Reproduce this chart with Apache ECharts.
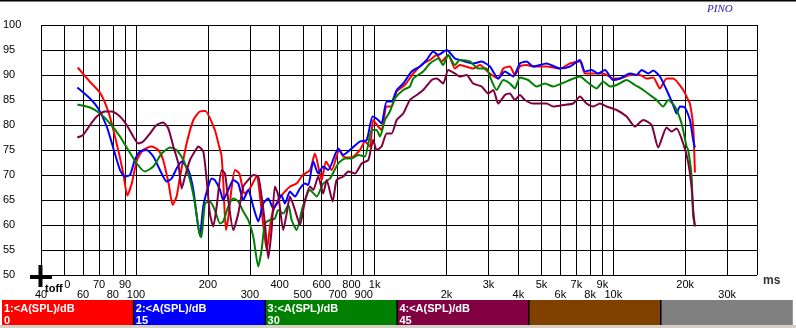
<!DOCTYPE html>
<html><head><meta charset="utf-8">
<script src="https://cdn.jsdelivr.net/npm/echarts@6/dist/echarts.min.js"></script>
<style>html,body{margin:0;padding:0;background:#fff}#c{width:796px;height:328px}</style>
</head><body><div id="c"></div>
<script>
// ---- tick values / labels ----
const xTickValues = [40,50,60,70,80,90,100,200,300,400,500,600,700,800,900,1000,2000,3000,4000,5000,6000,7000,8000,9000,10000,20000,30000,40000];
const xLabelValues = [40,50,60,70,80,90,100,200,300,400,500,600,700,800,900,1000,2000,3000,4000,5000,6000,7000,8000,9000,10000,20000,30000];
const xLabelTexts = ['40','50','60','70','80','90','100','200','300','400','500','600','700','800','900','1k','2k','3k','4k','5k','6k','7k','8k','9k','10k','20k','30k'];
const yMin = 50, yMax = 100, yStep = 5;

// ---- series ----
const seriesNames = ['1:<A(SPL)/dB','2:<A(SPL)/dB','3:<A(SPL)/dB','4:<A(SPL)/dB'];
const seriesDelays = ['0','15','30','45'];
const seriesColors = ['#ff0000','#0000ff','#008000','#800040'];
const legendColors = ['#ff0000','#0000ff','#008000','#800040','#804000','#808080'];

// [frequency Hz, level dB]
const curve1 = [[57,91.5],[64,88.7],[71,86.3],[77,82.3],[83,76.3],[88.5,70.3],[92,65.9],[96,68.3],[101,73],[107,75],[116,75.7],[124,75],[130,73],[137,68.3],[142.5,64],[148,65.7],[153,69.7],[163,76.3],[174,81],[185,82.7],[195,82.8],[214,79],[223,75.7],[228,74],[232,69],[238,59],[244,61.7],[252,67.7],[260,71],[271,70.3],[285,66.3],[300,67.3],[320,69.7],[336,63],[353,55],[370,61.7],[394,65],[421,66.7],[442,67.7],[471,68.3],[500,70],[536,71],[562,74.3],[600,69],[625,72.7],[661,71],[711,75],[739,73.7],[800,73.5],[868,75],[911,76.7],[956,75.7],[986,81],[1035,79.7],[1069,79],[1123,83.7],[1178,83.7],[1237,86.7],[1339,88],[1451,90.3],[1598,92.3],[1704,93],[1819,94],[1908,92.7],[2034,94],[2170,91.3],[2275,92],[2586,91.3],[2760,92],[3040,90.3],[3295,89.3],[3459,91.3],[3687,91.7],[3870,90],[4061,91.7],[4332,92],[4618,91.7],[5253,91.7],[5974,91.3],[6580,92.3],[7248,92.7],[7603,90.3],[8240,90.3],[9071,90.3],[9989,89.3],[10665,89.3],[11746,90],[12936,90],[13790,89.3],[14700,89.5],[15677,87.3],[16720,89.3],[17820,89.3],[19630,87],[20600,85],[20943,84.3],[21610,79.7],[21970,70.5]];
const curve2 = [[56.8,87.5],[64.2,85.3],[69.5,83.3],[75.4,79.7],[80,75.7],[85.7,71],[89.6,69.7],[94.4,70],[98.9,73],[103.9,74.7],[110.8,75],[118.2,73.7],[126,71],[134.4,68.7],[141,69.3],[148,71.3],[155.4,72.7],[165.7,71],[173.9,67],[185.4,57.8],[191.4,63.7],[200.8,67.7],[207.6,69.3],[214,69],[225,67],[232,65],[243.6,67],[255.7,69],[268.3,68.3],[281.5,65],[295.4,67],[310,63.7],[325.4,60.7],[341.5,64.3],[358.4,65.3],[376,63.3],[394.5,64.7],[406,66],[421,64.3],[441.7,66.7],[463.6,65.7],[486.5,67.3],[510,68.3],[527,68],[553,72.7],[580,70.3],[609,71.7],[639,71],[704,75.3],[739,74],[801,75.3],[868,76.7],[926,77],[981,81.7],[1035,81],[1069,80.3],[1123,84.7],[1178,84.7],[1237,87],[1318,88.3],[1429,90.7],[1547,91.7],[1651,93],[1760,94.7],[1847,94],[2003,95],[2170,93.3],[2275,93],[2586,92.3],[2806,92.7],[3040,91.7],[3295,89.3],[3515,90.7],[3809,89.7],[4061,92.3],[4332,92.7],[4618,91.7],[5253,92.3],[5974,91.3],[6580,91.7],[7248,93],[7603,90.7],[8110,91],[8645,90.3],[9220,91],[9989,89],[10665,89.3],[11746,90.3],[12530,90],[13140,91],[14010,90.3],[14700,90.9],[15677,89.7],[16720,87],[17820,84],[18410,82.3],[19012,83.7],[19950,83.5],[20943,81],[21610,77],[21970,75.5]];
const curve3 = [[56.8,84.1],[64.2,83.5],[70.7,82.3],[77.8,80.3],[85.7,77.7],[92.8,75],[100.7,72.3],[109,70.7],[118.2,71.7],[128.1,74.3],[138.8,75.5],[148,75],[158,73],[168.4,69],[176.6,64.3],[184,58.5],[188,57.5],[194.6,64.3],[204,64.7],[214,63],[225,60.3],[232,60.7],[243.6,63.7],[255.7,65.3],[268.3,64.7],[281.5,62.7],[295.4,61],[310,57.7],[325.4,51.7],[336,55],[347,60.3],[364,61],[382,61.3],[394.5,63],[414,62.3],[435,64],[449,61],[471,59],[500,63.7],[536,67],[572,65.7],[609,68.3],[650,69.3],[704,72.3],[751,73.3],[801,73.3],[854,74],[911,73.7],[971,79],[1019,79],[1052,77.7],[1105,81],[1159,82.7],[1216,85.3],[1318,87],[1405,87.7],[1451,89.3],[1598,90.7],[1704,92.3],[1790,93],[1847,93.3],[1938,92],[2034,94],[2170,92],[2275,93],[2506,92.7],[2717,91.3],[2946,91.3],[3040,89.7],[3245,87],[3459,89],[3687,88.3],[3870,87.3],[4061,89.5],[4399,89],[4770,87.7],[5170,88.3],[5600,87.7],[6075,88.3],[6580,89],[7248,89.7],[7727,88.7],[8511,87.3],[9071,88.7],[9684,87.7],[10325,88],[11370,89],[12320,88],[13350,87],[14237,86],[15180,85],[16190,83.7],[16990,85],[18110,83.7],[19320,80.3],[20280,75.7],[20600,75],[21280,69.7],[21610,61.7],[21970,60]];
const curve4 = [[56.8,77.5],[60,78],[64.2,80],[68.5,81.7],[74.2,82.7],[79.1,82.7],[85.7,81.7],[91.4,80],[97.4,77.7],[102.3,76.3],[107.3,76.7],[114.5,78.3],[122,80],[130,80.5],[136.6,79.3],[143.4,75.7],[150.5,72.3],[155.4,67.3],[160.5,69.7],[168.4,73],[179.5,75.3],[182.4,75.7],[191.4,74.7],[197.8,69],[204,62.3],[210.8,59.7],[217.8,63.7],[228.6,71],[236,70.3],[243.6,65],[255.7,59],[268.3,62.3],[281.5,67.7],[295.4,69],[310,70],[325.4,69.7],[336,65.7],[347,60.3],[358.4,53.3],[370,59],[382,67.7],[394.5,66],[414,59],[428,62.3],[441.7,65.7],[463.6,63],[486.5,60],[510,64.7],[536,67.7],[553,67],[580,69.7],[609,66.3],[629.6,69],[667,64.7],[693,69],[739,69.7],[776,70.7],[827,70.3],[882,72.3],[941,73],[986,77],[1019,75],[1069,75.7],[1123,78.3],[1178,78.3],[1237,81],[1318,82.3],[1405,85],[1500,86],[1598,87],[1734,89],[1819,89.3],[1938,88.3],[2034,91],[2170,90.3],[2275,89.7],[2429,90],[2586,88.3],[2806,87.7],[2992,86.3],[3141,87],[3295,84.3],[3515,86],[3687,86.3],[3870,85],[4061,86],[4262,85],[4618,84.3],[5253,84.3],[5600,83.7],[6166,84],[6793,84.3],[7248,85.7],[7727,84.3],[8240,83.7],[8792,84.3],[9375,83.7],[10325,83],[11370,81.7],[12320,79.7],[13350,81],[14470,80],[15420,75.5],[16720,79.5],[17540,78.7],[18410,79.3],[19630,76.3],[20600,72.5],[21280,67.5],[21610,63],[21970,59.7]];
const curves = [curve1, curve2, curve3, curve4];

const FONT = '"Liberation Sans", Arial, sans-serif';

function xLabel(v) {
  let best = 0, bd = Infinity;
  for (let i = 0; i < xLabelValues.length; i++) {
    const d = Math.abs(Math.log(v / xLabelValues[i]));
    if (d < bd) { bd = d; best = i; }
  }
  const t = xLabelTexts[best];
  return best % 2 === 0 ? '\n' + t : t;
}

const chart = echarts.init(document.getElementById('c'), null, {renderer: 'canvas'});

const legendW = 131.8, legendX0 = 2, legendY = 300, legendH = 25;
const graphics = [];
graphics.push({type:'rect', shape:{x:0,y:325,width:796,height:3}, style:{fill:'#d4d0c8'}, silent:true});
legendColors.forEach((c, i) => {
  graphics.push({type:'rect', shape:{x:legendX0 + i*legendW, y:legendY, width:legendW, height:legendH}, style:{fill:c}, silent:true});
  if (i > 0) graphics.push({type:'rect', shape:{x:legendX0 + i*legendW - 1, y:legendY, width:1.5, height:legendH}, style:{fill:'#000'}, silent:true});
  if (i < seriesNames.length) {
    graphics.push({type:'text', x:legendX0 + i*legendW + 2, y:legendY + 3, silent:true,
      style:{text: seriesNames[i] + '\n' + seriesDelays[i], fill:'#fff', font:'bold 11px ' + FONT, lineHeight:12}});
  }
});
graphics.push({type:'rect', shape:{x:0,y:0,width:796,height:1.5}, style:{fill:'#000'}, silent:true});
graphics.push({type:'text', x:707, y:4, silent:true, style:{text:'PINO', fill:'#2323c8', font:'italic 11px "Liberation Serif", "Times New Roman", serif'}});
graphics.push({type:'text', x:763, y:275, silent:true, style:{text:'ms', fill:'#333', font:'bold 12px ' + FONT}});
graphics.push({type:'rect', shape:{x:47,y:278.5,width:17.5,height:12.5}, style:{fill:'#fff'}, silent:true, z:100});
graphics.push({type:'text', x:45, y:283, silent:true, z:101, style:{text:'toff', fill:'#000', font:'bold 11px ' + FONT}});
graphics.push({type:'rect', shape:{x:38.5,y:265,width:4,height:22}, style:{fill:'#000'}, silent:true, z:102});
graphics.push({type:'rect', shape:{x:30,y:275,width:22,height:4}, style:{fill:'#000'}, silent:true, z:102});

const option = {
  animation: false,
  backgroundColor: '#fff',
  grid: {left: 41, right: 39, top: 25, bottom: 53, containLabel: false},
  xAxis: {
    type: 'log', logBase: 10, min: 40, max: 40000,
    axisLine: {show: false},
    axisTick: {show: false, customValues: xTickValues},
    splitLine: {show: true, lineStyle: {color: '#000', width: 1}},
    axisLabel: {customValues: xLabelValues, formatter: xLabel, color: '#000', fontSize: 11, fontFamily: FONT, margin: 5, lineHeight: 10, hideOverlap: false, showMinLabel: true, showMaxLabel: true}
  },
  yAxis: {
    type: 'value', min: yMin, max: yMax, interval: yStep,
    axisLine: {show: false}, axisTick: {show: false},
    splitLine: {show: true, lineStyle: {color: '#000', width: 1}},
    axisLabel: {align: 'left', margin: 38, color: '#000', fontSize: 11, fontFamily: FONT, padding: [0,0,6,0]}
  },
  series: curves.map((d, i) => ({
    name: seriesNames[i], type: 'line', data: d, showSymbol: false, symbol: 'none',
    smooth: 0.2, lineStyle: {color: seriesColors[i], width: 2}, itemStyle: {color: seriesColors[i]}, z: 2 + i
  })),
  graphic: graphics
};
chart.setOption(option);
</script>
</body></html>
